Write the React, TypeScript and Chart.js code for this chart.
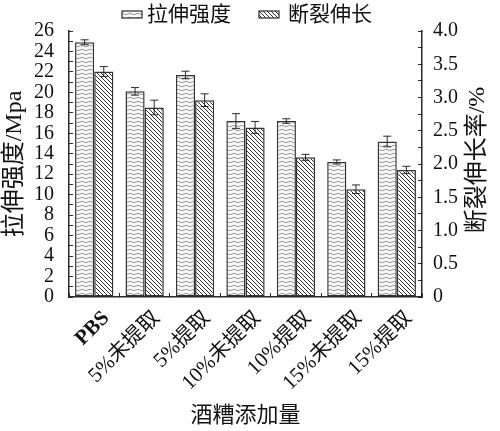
import React, { useEffect, useRef } from 'react';
import { Chart, registerables } from 'chart.js';

Chart.register(...registerables);

const categories = ['PBS', '5%未提取', '5%提取', '10%未提取', '10%提取', '15%未提取', '15%提取'];
const tensileLabel = '拉伸强度';
const elongLabel = '断裂伸长';
const tensile = [24.9, 20.1, 21.7, 17.2, 17.2, 13.2, 15.2];
const tensileErr = [0.24, 0.37, 0.37, 0.72, 0.22, 0.2, 0.52];
const elong = [3.39, 2.85, 2.96, 2.55, 2.1, 1.62, 1.91];
const elongErr = [0.075, 0.11, 0.095, 0.09, 0.045, 0.065, 0.055];
const leftTitle = '拉伸强度/Mpa';
const rightTitle = '断裂伸长率/%';
const xTitle = '酒糟添加量';

const SERIF = '"Liberation Serif", "Noto Sans CJK SC", serif';
const INK = '#2b2b2b';

function makeWavePattern(): CanvasPattern | string {
  const c = document.createElement('canvas');
  c.width = 8;
  c.height = 4;
  const g = c.getContext('2d');
  if (!g) return '#eee';
  g.fillStyle = '#f7f7f7';
  g.fillRect(0, 0, 8, 4);
  g.strokeStyle = '#9a9a9a';
  g.lineWidth = 1;
  g.beginPath();
  g.moveTo(0, 2);
  g.quadraticCurveTo(2, 0.6, 4, 2);
  g.quadraticCurveTo(6, 3.4, 8, 2);
  g.stroke();
  return g.createPattern(c, 'repeat') || '#eee';
}

function makeHatchPattern(): CanvasPattern | string {
  const c = document.createElement('canvas');
  const s = 4;
  c.width = s;
  c.height = s;
  const g = c.getContext('2d');
  if (!g) return '#888';
  g.fillStyle = '#ffffff';
  g.fillRect(0, 0, s, s);
  g.strokeStyle = '#303030';
  g.lineWidth = 1;
  g.beginPath();
  g.moveTo(-1, -1);
  g.lineTo(s + 1, s + 1);
  g.moveTo(-1, s - 1);
  g.lineTo(1, s + 1);
  g.moveTo(s - 1, -1);
  g.lineTo(s + 1, 1);
  g.stroke();
  return g.createPattern(c, 'repeat') || '#888';
}

const errorMap: Record<number, number[]> = { 0: tensileErr, 1: elongErr };

const errorBarsPlugin = {
  id: 'errorBars',
  afterDatasetsDraw(chart: any) {
    const ctx = chart.ctx;
    chart.data.datasets.forEach((ds: any, di: number) => {
      const meta = chart.getDatasetMeta(di);
      const scale = chart.scales[meta.yAxisID];
      const errs = errorMap[di];
      meta.data.forEach((bar: any, i: number) => {
        const v = ds.data[i];
        const e = errs[i];
        const x = bar.x;
        const yt = scale.getPixelForValue(v + e);
        const yb = scale.getPixelForValue(v - e);
        ctx.save();
        ctx.strokeStyle = INK;
        ctx.lineWidth = 1;
        ctx.beginPath();
        ctx.moveTo(x, yt);
        ctx.lineTo(x, yb);
        ctx.moveTo(x - 4, yt);
        ctx.lineTo(x + 4, yt);
        ctx.moveTo(x - 4, yb);
        ctx.lineTo(x + 4, yb);
        ctx.stroke();
        ctx.restore();
      });
    });
  },
};

const legendAndTitlePlugin = {
  id: 'customLegend',
  afterDraw(chart: any) {
    const ctx = chart.ctx;
    const ds = chart.data.datasets;
    const items = [
      { box: 122, text: 147 },
      { box: 259, text: 288 },
    ];
    ctx.save();
    ctx.font = '21px ' + SERIF;
    ctx.textBaseline = 'middle';
    ctx.textAlign = 'left';
    items.forEach((it, i) => {
      ctx.fillStyle = ds[i].backgroundColor;
      ctx.fillRect(it.box, 11, 20, 7);
      ctx.strokeStyle = INK;
      ctx.lineWidth = 1.2;
      ctx.strokeRect(it.box, 11, 20, 7);
      ctx.fillStyle = '#111';
      ctx.fillText(ds[i].label, it.text, 15);
    });
    // right axis title, reading bottom to top
    const area = chart.chartArea;
    ctx.translate(478, 160);
    ctx.rotate(-Math.PI / 2);
    ctx.font = '24px ' + SERIF;
    ctx.textAlign = 'center';
    ctx.fillStyle = '#111';
    ctx.fillText(rightTitle, 0, 0);
    ctx.restore();
  },
};

export default function App() {
  const ref = useRef<HTMLCanvasElement | null>(null);
  useEffect(() => {
    if (!ref.current) return;
    const wave = makeWavePattern();
    const hatch = makeHatchPattern();
    const chart = new Chart(ref.current, {
      type: 'bar',
      data: {
        labels: categories,
        datasets: [
          {
            label: tensileLabel,
            data: tensile,
            yAxisID: 'y',
            backgroundColor: wave as any,
            borderColor: '#333',
            borderWidth: 1.5,
            borderSkipped: false,
            categoryPercentage: 0.76,
            barPercentage: 1,
          },
          {
            label: elongLabel,
            data: elong,
            yAxisID: 'y1',
            backgroundColor: hatch as any,
            borderColor: '#333',
            borderWidth: 1.5,
            borderSkipped: false,
            categoryPercentage: 0.76,
            barPercentage: 1,
          },
        ],
      },
      options: {
        animation: false,
        responsive: true,
        maintainAspectRatio: false,
        layout: { padding: { top: 21, left: 0, right: 0, bottom: 0 } },
        plugins: {
          legend: { display: false },
          tooltip: { enabled: false },
        },
        scales: {
          x: {
            offset: true,
            grid: { offset: true, drawOnChartArea: false, drawTicks: true, tickLength: -4, color: INK, lineWidth: 1 },
            border: { display: true, color: INK, width: 1.5 },
            ticks: {
              autoSkip: false,
              maxRotation: 45,
              minRotation: 45,
              padding: 13,
              labelOffset: 12,
              color: '#111',
              font: (c: any) => ({ family: SERIF, size: 21, weight: c.index === 0 ? 'bold' : 'normal' }),
            },
            title: {
              display: true,
              text: xTitle,
              color: '#111',
              font: { family: SERIF, size: 22 },
              padding: { top: 0, bottom: 2 },
            },
            afterFit: (s: any) => {
              s.height = 134;
            },
          },
          y: {
            position: 'left',
            min: 0,
            max: 26,
            grid: { drawOnChartArea: false, drawTicks: true, tickLength: -4, color: INK, lineWidth: 1 },
            border: { display: true, color: INK, width: 1.5 },
            ticks: {
              stepSize: 1,
              autoSkip: false,
              padding: 19,
              color: '#111',
              font: { family: SERIF, size: 20 },
              callback: (v: any) => (Number(v) % 2 === 0 ? String(v) : ''),
            },
            title: {
              display: true,
              text: leftTitle,
              color: '#111',
              font: { family: SERIF, size: 24 },
              padding: { top: 0, bottom: 0 },
            },
            afterFit: (s: any) => {
              s.width = 69;
            },
          },
          y1: {
            position: 'right',
            min: 0,
            max: 4,
            grid: { drawOnChartArea: false, drawTicks: true, tickLength: -4, color: INK, lineWidth: 1 },
            border: { display: true, color: INK, width: 1.5 },
            ticks: {
              stepSize: 0.25,
              autoSkip: false,
              padding: 15,
              color: '#111',
              font: { family: SERIF, size: 20 },
              callback: (v: any) => {
                const n = Number(v);
                if (Math.abs(n * 2 - Math.round(n * 2)) > 1e-6) return '';
                return n === 0 ? '0' : n.toFixed(1);
              },
            },
            afterFit: (s: any) => {
              s.width = 78;
            },
          },
        },
      },
      plugins: [errorBarsPlugin, legendAndTitlePlugin],
    });
    return () => chart.destroy();
  }, []);

  return (
    <div style={{ position: 'absolute', left: 0, top: 0, width: 500, height: 431, background: '#fff' }}>
      <canvas ref={ref} />
    </div>
  );
}
